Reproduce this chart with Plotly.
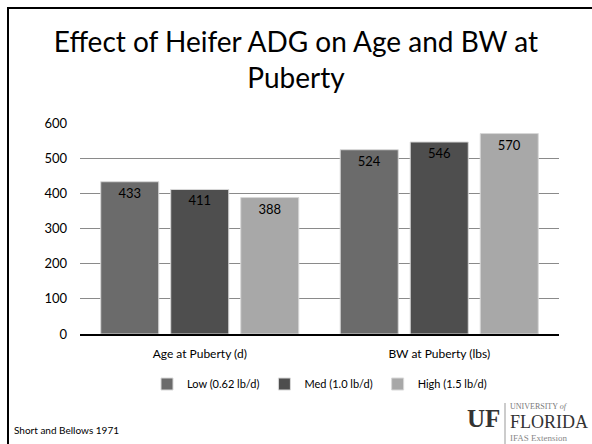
import plotly.graph_objects as go

categories = ["Age at Puberty (d)", "BW at Puberty (lbs)"]
series_names = ["Low (0.62 lb/d)", "Med (1.0 lb/d)", "High (1.5 lb/d)"]
low_vals = [433, 524]
med_vals = [411, 546]
high_vals = [388, 570]
y_ticks = [0, 100, 200, 300, 400, 500, 600]

colors = ["#6b6b6b", "#4e4e4e", "#a8a8a8"]
W, H = 592, 444
L, R, T, B = 80, 33, 123, 110
PW, PH = W - L - R, H - T - B

def px(x):
    return (x - L) / PW

def py(y):
    return (H - B - y) / PH

FONT = "Lato, Open Sans, sans-serif"
SERIF = "Liberation Serif, serif"
fig = go.Figure()
for name, vals, c in zip(series_names, [low_vals, med_vals, high_vals], colors):
    fig.add_trace(go.Bar(
        x=categories, y=vals, name=name,
        marker=dict(color=c, line=dict(color="#d8d8d8", width=1)),
        text=[str(v) for v in vals], textposition="inside", insidetextanchor="end",
        textfont=dict(color="#000000", size=13, family=FONT),
        cliponaxis=False,
    ))

fig.update_layout(
    width=W, height=H,
    margin=dict(l=L, r=R, t=T, b=B),
    paper_bgcolor="white", plot_bgcolor="white",
    barmode="group", bargap=0.123, bargroupgap=0.171,
    font=dict(family=FONT, color="#000000", size=12),
    showlegend=True,
    legend=dict(orientation="h", x=0.5, xanchor="center", y=py(384), yanchor="middle",
                font=dict(size=11), itemwidth=30, traceorder="normal"),
    title=dict(text="Effect of Heifer ADG on Age and BW at<br>Puberty", x=0.5, xanchor="center",
               y=1 - 52 / H, yanchor="top", font=dict(size=28, family=FONT, color="#000000")),
    xaxis=dict(showgrid=False, showline=True, linecolor="#000000", linewidth=1.5,
               ticks="", tickfont=dict(size=12), ticklabelstandoff=8),
    yaxis=dict(range=[0, 600], tickvals=y_ticks, showgrid=True, gridcolor="#8a8a8a", gridwidth=1,
               zeroline=False, showline=False, ticks="", tickfont=dict(size=13),
               ticklabelstandoff=12),
)

# slide frame
fig.add_shape(type="rect", xref="paper", yref="paper",
              x0=px(8), x1=px(W + 20), y0=py(8), y1=py(H + 20),
              line=dict(color="#000000", width=2), fillcolor="rgba(0,0,0,0)", layer="above")

# footer
fig.add_annotation(text="Short and Bellows 1971", xref="paper", yref="paper",
                   x=px(12), y=py(430), xanchor="left", yanchor="middle", showarrow=False,
                   font=dict(size=10, family=FONT, color="#000000"))
# UF logo text
fig.add_annotation(text="<b>UF</b>", xref="paper", yref="paper", x=px(502), y=py(418),
                   xanchor="right", yanchor="middle", showarrow=False,
                   font=dict(size=25, family=SERIF, color="#333333"))
fig.add_shape(type="line", xref="paper", yref="paper", x0=px(505), x1=px(505), y0=py(403), y1=py(444),
              line=dict(color="#999999", width=1))
fig.add_annotation(text="UNIVERSITY <i>of</i>", xref="paper", yref="paper", x=px(508), y=py(406),
                   xanchor="left", yanchor="middle", showarrow=False,
                   font=dict(size=8, family=SERIF, color="#777777"))
fig.add_annotation(text="FLORIDA", xref="paper", yref="paper", x=px(508), y=py(422),
                   xanchor="left", yanchor="middle", showarrow=False,
                   font=dict(size=18, family=SERIF, color="#333333"))
fig.add_annotation(text="IFAS Extension", xref="paper", yref="paper", x=px(508), y=py(438),
                   xanchor="left", yanchor="middle", showarrow=False,
                   font=dict(size=9, family=SERIF, color="#888888"))

fig.write_html("out.html", config={"displayModeBar": False},
               post_script="document.body.style.margin='0';document.body.style.overflow='hidden';")
